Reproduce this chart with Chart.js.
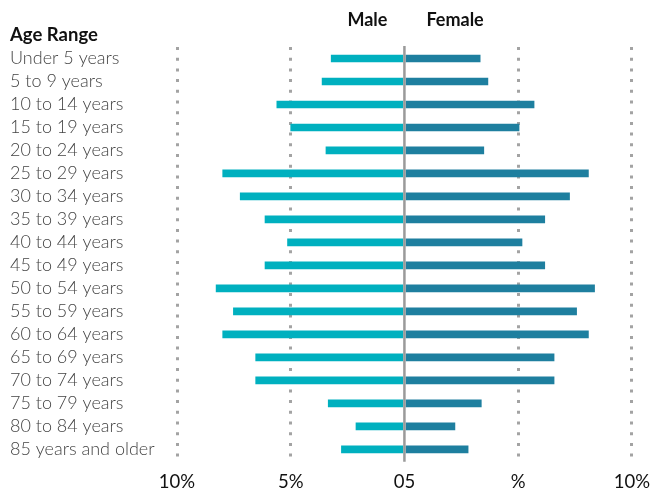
<!DOCTYPE html>
<html>
<head>
<meta charset="utf-8">
<script src="https://cdn.jsdelivr.net/npm/chart.js@4"></script>
<style>
  html, body { margin: 0; padding: 0; background: #fff; }
  .wrap { width: 660px; height: 491px; }
</style>
</head>
<body>
<div class="wrap"><canvas class="grafico"></canvas></div>
<script>
const ageRanges = ["Under 5 years", "5 to 9 years", "10 to 14 years", "15 to 19 years",
  "20 to 24 years", "25 to 29 years", "30 to 34 years", "35 to 39 years", "40 to 44 years",
  "45 to 49 years", "50 to 54 years", "55 to 59 years", "60 to 64 years", "65 to 69 years",
  "70 to 74 years", "75 to 79 years", "80 to 84 years", "85 years and older"];
const male = [3.22, 3.62, 5.61, 5.0, 3.45, 7.99, 7.22, 6.13, 5.14, 6.13, 8.28, 7.52, 7.99, 6.54, 6.54, 3.35, 2.13, 2.77];
const female = [3.33, 3.67, 5.70, 5.04, 3.49, 8.09, 7.26, 6.17, 5.17, 6.17, 8.36, 7.57, 8.09, 6.58, 6.58, 3.38, 2.22, 2.80];
const tickValues = [-10, -5, 0, 5, 10];
const tickLabels = ["10%", "5%", "05", "%", "10%"];

const canvas = document.querySelector(".grafico");
const font = "Lato, 'Open Sans', sans-serif";

// headers + zero line, placed from the x scale
const extras = {
  id: "extras",
  afterDraw(chart) {
    const ctx = chart.ctx;
    const x = chart.scales.x;
    const area = chart.chartArea;
    const zero = x.getPixelForValue(0);
    ctx.save();
    ctx.strokeStyle = "#9a9a9a";
    ctx.lineWidth = 2.5;
    ctx.beginPath();
    ctx.moveTo(zero, area.top - 1);
    ctx.lineTo(zero, area.bottom + 1);
    ctx.stroke();

    ctx.fillStyle = "#111";
    ctx.font = "bold 18px " + font;
    ctx.textBaseline = "middle";
    ctx.textAlign = "right";
    ctx.fillText("Male", zero - 17, 20);
    ctx.textAlign = "left";
    ctx.fillText("Female", zero + 22, 20);
    ctx.font = "bold 18.5px " + font;
    ctx.fillText("Age Range", 10, 35);
    ctx.restore();
  }
};

new Chart(canvas, {
  type: "bar",
  data: {
    labels: ageRanges,
    datasets: [
      { label: "Male", data: male.map(v => -v), backgroundColor: "#00B0BF", barThickness: 7 },
      { label: "Female", data: female, backgroundColor: "#1E7F9F", barThickness: 7 }
    ]
  },
  options: {
    indexAxis: "y",
    responsive: true,
    maintainAspectRatio: false,
    animation: false,
    layout: { padding: { left: 10, right: 27, top: 47, bottom: -12 } },
    plugins: { legend: { display: false }, tooltip: { enabled: false } },
    scales: {
      x: {
        stacked: true,
        min: -10,
        max: 10,
        z: 1,
        afterBuildTicks(axis) {
          axis.ticks = tickValues.map(v => ({ value: v }));
        },
        ticks: {
          padding: 10,
          color: "#111",
          font: { family: font, size: 18.5 },
          maxRotation: 0,
          callback: (v) => tickLabels[tickValues.indexOf(v)]
        },
        grid: {
          drawTicks: false,
          lineWidth: 3,
          color: (c) => (c.tick && c.tick.value === 0) ? "rgba(0,0,0,0)" : "#a3a3a3"
        },
        border: { display: false, dash: [3, 7.7] }
      },
      y: {
        stacked: true,
        afterFit(axis) { axis.width = 167; },
        ticks: {
          crossAlign: "far",
          color: "#444",
          font: { family: font, size: 18, weight: 300 },
          autoSkip: false
        },
        grid: { display: false, drawTicks: false },
        border: { display: false }
      }
    }
  },
  plugins: [extras]
});
</script>
</body>
</html>
